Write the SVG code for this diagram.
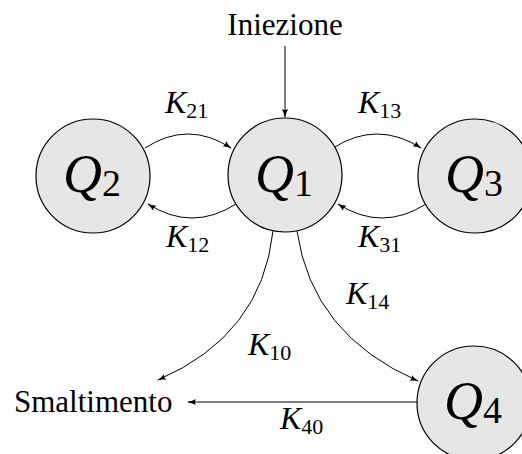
<svg xmlns="http://www.w3.org/2000/svg" width="522" height="454" viewBox="0 0 522 454">
<style>
.node circle{fill:#e6e6e6;stroke:#000;stroke-width:1.2}
#edges path{fill:none;stroke:#000;stroke-width:1;marker-end:url(#ah)}
</style>
<defs>
<marker id="ah" viewBox="0 0 10 10" refX="9" refY="5" markerWidth="9" markerHeight="9" markerUnits="userSpaceOnUse" orient="auto">
<path d="M0,1.5 Q5,4.2 10,5 Q5,5.8 0,8.5 Q2.5,5 0,1.5Z" fill="#000"/>
</marker>
</defs>
<g id="edges">
<path d="M285,46 L285,117"/>
<path d="M145,148 Q188,120 231,148"/>
<path d="M236,204 Q192,232 148,204"/>
<path d="M333,148 Q377,120 421,148"/>
<path d="M426,204 Q382,232 338,204"/>
<path d="M273,231 Q262,335 158,380"/>
<path d="M297,231 Q312,335 418,381"/>
<path d="M417,402 L188,402"/>
</g>
<g font-family="Liberation Serif, DejaVu Serif, serif">
<g id="Iniezione"><text font-size="31" x="285" y="35" text-anchor="middle">Iniezione</text></g>
<g id="Smaltimento"><text font-size="31" x="14" y="412">Smaltimento</text></g>
<g id="Q1" class="node"><circle cx="285" cy="175" r="57"/><text font-size="54" font-style="italic" x="284" y="192" text-anchor="middle">Q<tspan font-style="normal" font-size="38" dy="4">1</tspan></text></g>
<g id="Q2" class="node"><circle cx="93" cy="176" r="57"/><text font-size="54" font-style="italic" x="92" y="192" text-anchor="middle">Q<tspan font-style="normal" font-size="38" dy="4">2</tspan></text></g>
<g id="Q3" class="node"><circle cx="475" cy="176" r="57"/><text font-size="54" font-style="italic" x="474" y="192" text-anchor="middle">Q<tspan font-style="normal" font-size="38" dy="4">3</tspan></text></g>
<g id="Q4" class="node"><circle cx="474" cy="403" r="57"/><text font-size="54" font-style="italic" x="473" y="419" text-anchor="middle">Q<tspan font-style="normal" font-size="38" dy="4">4</tspan></text></g>
<g id="labels" font-size="32" font-style="italic">
<text x="165" y="113">K<tspan font-style="normal" font-size="22" dy="5">21</tspan></text>
<text x="358" y="113">K<tspan font-style="normal" font-size="22" dy="5">13</tspan></text>
<text x="166" y="247">K<tspan font-style="normal" font-size="22" dy="5">12</tspan></text>
<text x="358" y="247">K<tspan font-style="normal" font-size="22" dy="5">31</tspan></text>
<text x="346" y="304">K<tspan font-style="normal" font-size="22" dy="5">14</tspan></text>
<text x="248" y="355">K<tspan font-style="normal" font-size="22" dy="5">10</tspan></text>
<text x="280" y="429">K<tspan font-style="normal" font-size="22" dy="5">40</tspan></text>
</g>
</g>
</svg>
